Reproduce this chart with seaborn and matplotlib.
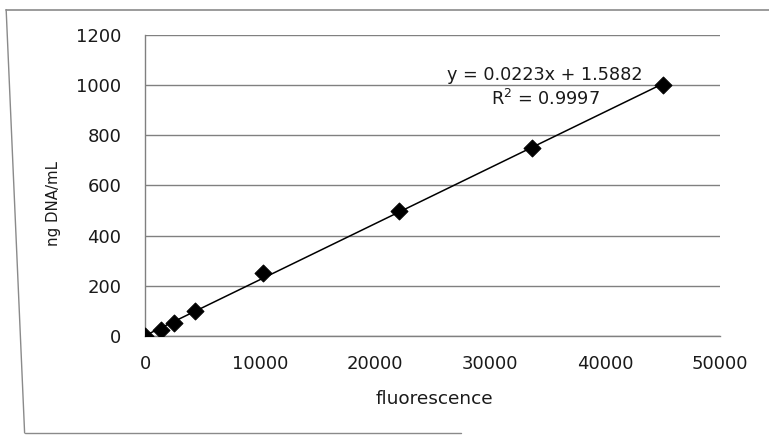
import matplotlib
matplotlib.use("Agg")
import matplotlib.pyplot as plt
from matplotlib.lines import Line2D
import numpy as np
import pandas as pd
import seaborn as sns

# Standard curve: fluorescence readings vs. DNA concentration
fluorescence = [0, 1350, 2490, 4320, 10300, 22050, 33650, 45000]
ng_dna_ml = [0, 25, 50, 100, 250, 500, 750, 1000]

# Linear trendline parameters
slope = 0.0223
intercept = 1.5882
r_squared = 0.9997

x_ticks = [0, 10000, 20000, 30000, 40000, 50000]
y_ticks = [0, 200, 400, 600, 800, 1000, 1200]

df = pd.DataFrame({"fluorescence": fluorescence, "ng DNA/mL": ng_dna_ml})

sns.set_theme(style="white")
plt.rcParams["font.family"] = ["DejaVu Sans"]

fig = plt.figure(figsize=(7.69, 4.36), dpi=100)
ax = fig.add_axes([0.1886, 0.2294, 0.7477, 0.6903])

# Horizontal gridlines
for yv in y_ticks:
    ax.axhline(yv, color="#808080", lw=1.0, zorder=0)

# Trendline across the data range
xl = np.array([min(fluorescence), max(fluorescence)])
sns.lineplot(x=xl, y=slope * xl + intercept, color="black", lw=1.1, ax=ax, zorder=2)

sns.scatterplot(data=df, x="fluorescence", y="ng DNA/mL", marker="D", s=75,
                color="black", edgecolor="black", ax=ax, zorder=3)

ax.set_xlim(0, 50000)
ax.set_ylim(0, 1200)
ax.set_xticks(x_ticks)
ax.set_yticks(y_ticks)
ax.set_xticklabels([str(t) for t in x_ticks], fontsize=13, color="#1a1a1a")
ax.set_yticklabels([str(t) for t in y_ticks], fontsize=13, color="#1a1a1a")
ax.tick_params(axis="both", which="both", length=5, width=1, color="#808080",
               direction="out")
ax.tick_params(axis="y", pad=12)
ax.tick_params(axis="x", pad=9)

for s in ["top", "right"]:
    ax.spines[s].set_visible(False)
ax.spines["left"].set_color("#808080")
ax.spines["bottom"].set_color("#808080")
ax.spines["left"].set_linewidth(1.0)
ax.spines["bottom"].set_linewidth(1.0)

ax.set_xlabel("fluorescence", fontsize=13.3, color="#1a1a1a")
ax.set_ylabel("ng DNA/mL", fontsize=10.8, color="#1a1a1a")
ax.xaxis.set_label_coords(0.503, -0.18)
ax.yaxis.set_label_coords(-0.146, 0.44)

ax.text(34800, 1040, f"y = {slope}x + {intercept}", fontsize=12.7, ha="center",
        va="center", color="#1a1a1a")
ax.text(34800, 945, f"R$^2$ = {r_squared}", fontsize=12.7, ha="center",
        va="center", color="#1a1a1a")

# Chart-area frame
fig.add_artist(Line2D([0.008, 1.0], [0.978, 0.978], transform=fig.transFigure,
                      color="#8a8a8a", lw=1.2))
fig.add_artist(Line2D([0.008, 0.032], [0.978, 0.007], transform=fig.transFigure,
                      color="#8a8a8a", lw=1.0))
fig.add_artist(Line2D([0.032, 0.60], [0.007, 0.007], transform=fig.transFigure,
                      color="#8a8a8a", lw=1.0))

fig.savefig("out.png", dpi=100)
